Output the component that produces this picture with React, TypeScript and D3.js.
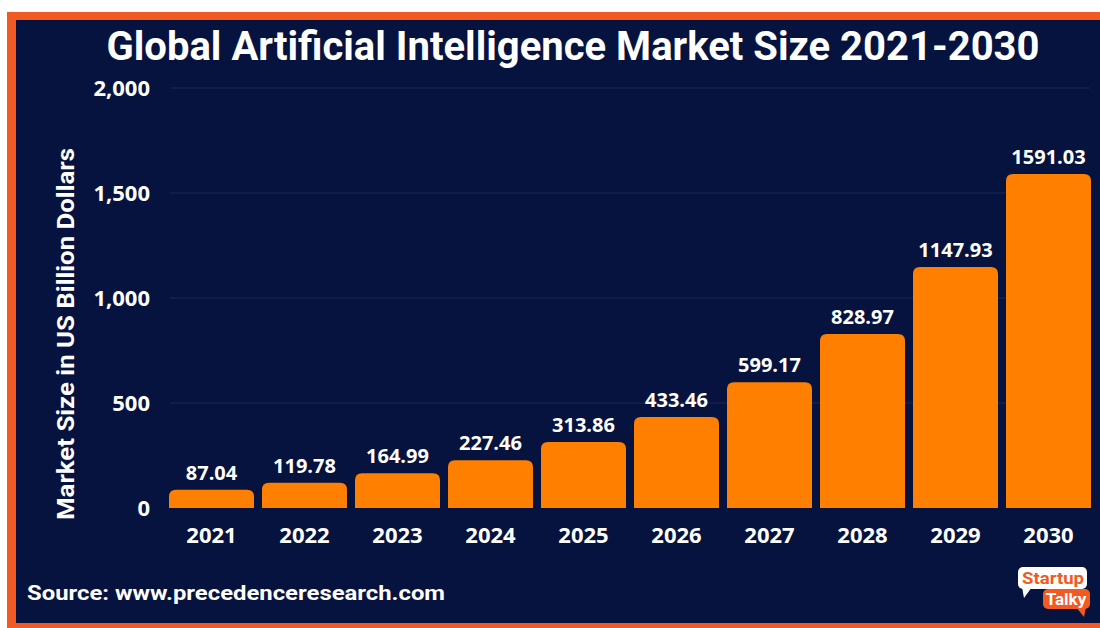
import React from "react";
import * as d3 from "d3";

const years = ["2021", "2022", "2023", "2024", "2025", "2026", "2027", "2028", "2029", "2030"];
const marketSize = [87.04, 119.78, 164.99, 227.46, 313.86, 433.46, 599.17, 828.97, 1147.93, 1591.03];
const yTicks = [0, 500, 1000, 1500, 2000];

const W = 1100;
const H = 628;
const NAVY = "#06133f";
const BORDER = "#f15a22";
const BAR = "#ff7f00";

function topRoundedRect(x: number, y: number, w: number, h: number, r: number) {
  const rr = Math.min(r, h, w / 2);
  return `M${x},${y + h}V${y + rr}Q${x},${y} ${x + rr},${y}H${x + w - rr}Q${x + w},${y} ${x + w},${y + rr}V${y + h}Z`;
}

export default function App() {
  const x = d3.scaleBand<string>().domain(years).range([169, 1091]).paddingInner(0.086).paddingOuter(0);
  const y = d3.scaleLinear().domain([0, 2000]).range([508, 88]);
  const fmt = d3.format(",");
  const font = "'Open Sans', 'Noto Sans', sans-serif";

  return (
    <svg width={W} height={H} style={{ position: "absolute", left: 0, top: 0, display: "block" }}>
      <rect x={0} y={0} width={W} height={H} fill="#ffffff" />
      <rect x={7} y={12} width={W - 7} height={H - 12} fill={BORDER} />
      <rect x={16} y={20} width={W - 16} height={603} fill={NAVY} />

      <text
        x={573}
        y={60}
        textAnchor="middle"
        fill="#ffffff"
        fontFamily="Roboto, 'Noto Sans', sans-serif"
        fontWeight={700}
        fontSize={40}
        textLength={933}
        lengthAdjust="spacingAndGlyphs"
      >
        Global Artificial Intelligence Market Size 2021-2030
      </text>

      {yTicks.map((t) => (
        <g key={t}>
          {t > 0 && (
            <line x1={170} x2={1090} y1={y(t)} y2={y(t)} stroke="#1b2858" strokeWidth={1} />
          )}
          <text
            x={150}
            y={y(t) + 8}
            textAnchor="end"
            fill="#ffffff"
            fontFamily={font}
            fontWeight={700}
            fontSize={22}
          >
            {fmt(t)}
          </text>
        </g>
      ))}

      <text
        transform={`translate(74,334) rotate(-90)`}
        textAnchor="middle"
        fill="#ffffff"
        fontFamily="Roboto, 'Noto Sans', sans-serif"
        fontWeight={700}
        fontSize={24}
        textLength={372}
        lengthAdjust="spacingAndGlyphs"
      >
        Market Size in US Billion Dollars
      </text>

      {years.map((yr, i) => {
        const bx = x(yr) as number;
        const bw = x.bandwidth();
        const v = marketSize[i];
        const top = y(v);
        return (
          <g key={yr}>
            <path d={topRoundedRect(bx, top, bw, y(0) - top, 7)} fill={BAR} />
            <text
              x={bx + bw / 2}
              y={top - 10}
              textAnchor="middle"
              fill="#ffffff"
              fontFamily={font}
              fontWeight={700}
              fontSize={20}
            >
              {v.toFixed(2)}
            </text>
            <text
              x={bx + bw / 2}
              y={543}
              textAnchor="middle"
              fill="#ffffff"
              fontFamily={font}
              fontWeight={700}
              fontSize={22}
            >
              {yr}
            </text>
          </g>
        );
      })}

      <text
        x={27}
        y={600}
        fill="#ffffff"
        fontFamily="Roboto, 'Noto Sans', sans-serif"
        fontWeight={700}
        fontSize={21}
        textLength={418}
        lengthAdjust="spacingAndGlyphs"
      >
        Source: www.precedenceresearch.com
      </text>

      {/* StartupTalky logo */}
      <g>
        <rect x={1018} y={567} width={69} height={22} rx={5} fill="#ffffff" />
        <path d="M1022,587 L1024,598 L1032,587 Z" fill="#ffffff" />
        <text
          x={1053}
          y={584}
          textAnchor="middle"
          fill={BORDER}
          fontFamily="Roboto, 'Noto Sans', sans-serif"
          fontWeight={700}
          fontSize={17}
          textLength={62}
          lengthAdjust="spacingAndGlyphs"
        >
          Startup
        </text>
        <rect x={1043} y={589} width={47} height={20} rx={5} fill={BORDER} />
        <path d="M1076,607 L1084,617 L1086,607 Z" fill={BORDER} />
        <text
          x={1066}
          y={605}
          textAnchor="middle"
          fill="#ffffff"
          fontFamily="Roboto, 'Noto Sans', sans-serif"
          fontWeight={700}
          fontSize={17}
        >
          Talky
        </text>
      </g>
    </svg>
  );
}
